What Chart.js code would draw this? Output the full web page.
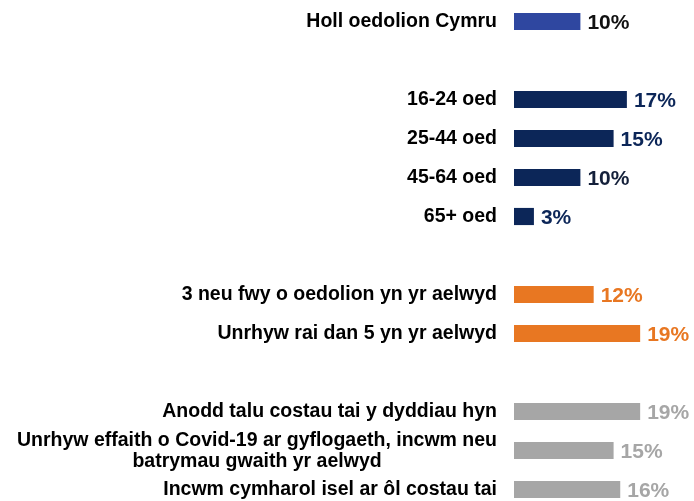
<!DOCTYPE html>
<html>
<head>
<meta charset="utf-8">
<style>
  html, body { margin: 0; padding: 0; background: #fff; overflow: hidden; }
  #wrap { width: 694px; height: 510px; }
</style>
</head>
<body>
<div id="wrap"><canvas id="myChart"></canvas></div>
<script src="https://cdn.jsdelivr.net/npm/chart.js"></script>
<script>
  // data
  const categories = [
    ['Holl oedolion Cymru'],
    [''],
    ['16-24 oed'],
    ['25-44 oed'],
    ['45-64 oed'],
    ['65+ oed'],
    [''],
    ['3 neu fwy o oedolion yn yr aelwyd'],
    ['Unrhyw rai dan 5 yn yr aelwyd'],
    [''],
    ['Anodd talu costau tai y dyddiau hyn'],
    ['Unrhyw effaith o Covid-19 ar gyflogaeth, incwm neu', 'batrymau gwaith yr aelwyd'],
    ['Incwm cymharol isel ar ôl costau tai']
  ];
  const values = [10, null, 17, 15, 10, 3, null, 12, 19, null, 19, 15, 16];

  // styles
  const barColors = ['#2f47a0', '#fff', '#0c2658', '#0c2658', '#0c2658', '#0c2658', '#fff',
    '#e87722', '#e87722', '#fff', '#a6a6a6', '#a6a6a6', '#a6a6a6'];
  const textColors = ['#111111', '#fff', '#0c2658', '#0c2658', '#14203a', '#0c2658', '#fff',
    '#e87722', '#e87722', '#fff', '#a6a6a6', '#a6a6a6', '#a6a6a6'];

  const FONT = 'Liberation Sans, Arial, sans-serif';

  const labelPlugin = {
    id: 'labels',
    afterDatasetsDraw(chart) {
      const c = chart.ctx;
      const y = chart.scales.y;
      const meta = chart.getDatasetMeta(0);
      c.save();
      c.textBaseline = 'middle';
      // category labels, block right-aligned, lines centred in block
      c.font = 'bold 19.5px ' + FONT;
      c.fillStyle = '#000';
      c.textAlign = 'center';
      categories.forEach((lines, i) => {
        const cy = y.getPixelForValue(i);
        const widest = Math.max(...lines.map(l => c.measureText(l).width));
        const cx = 497 - widest / 2;
        const lh = 21.5;
        lines.forEach((l, k) => {
          c.fillText(l, cx, cy + 0.5 + (k - (lines.length - 1) / 2) * lh);
        });
      });
      // value labels
      c.font = 'bold 21px ' + FONT;
      c.textAlign = 'left';
      meta.data.forEach((bar, i) => {
        if (values[i] === null) return;
        c.fillStyle = textColors[i];
        c.fillText(values[i] + '%', bar.x + 7, bar.y + 1.5);
      });
      c.restore();
    }
  };

  new Chart(document.getElementById('myChart'), {
    type: 'bar',
    data: {
      labels: categories,
      datasets: [{
        data: values,
        backgroundColor: barColors,
        categoryPercentage: 1,
        barPercentage: 0.44
      }]
    },
    options: {
      indexAxis: 'y',
      responsive: true,
      maintainAspectRatio: false,
      animation: false,
      layout: { padding: { left: 514, right: 14, top: 2, bottom: 1 } },
      scales: {
        x: { display: false, min: 0, max: 25 },
        y: { display: false }
      },
      plugins: {
        legend: { display: false },
        tooltip: { enabled: false }
      }
    },
    plugins: [labelPlugin]
  });
</script>
</body>
</html>
